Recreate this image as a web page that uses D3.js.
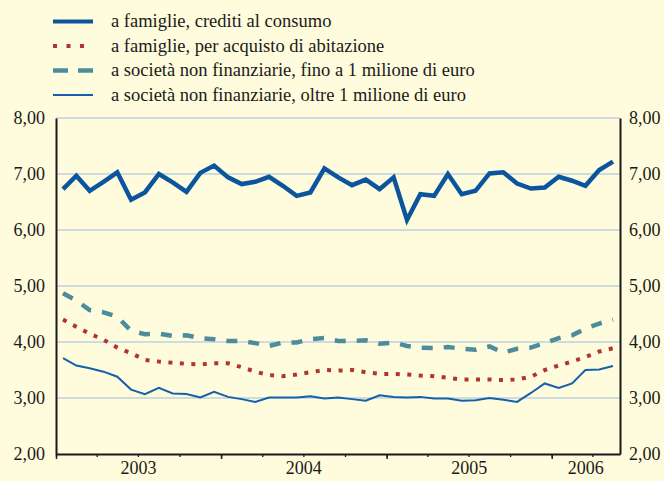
<!DOCTYPE html>
<html>
<head>
<meta charset="utf-8">
<script src="https://cdn.jsdelivr.net/npm/d3@7"></script>
<style>
  html, body { margin: 0; padding: 0; background: #fefcdc; }
  svg { display: block; }
  text { font-family: "Liberation Serif", "Times New Roman", serif; fill: #1a1a1a; }
</style>
</head>
<body>
<svg id="chart" width="664" height="481"></svg>
<script>
// Monthly rates, January 2003 - May 2006 (per cent)
const startMonth = new Date(2003, 0, 1);
const endMonth = new Date(2006, 5, 1);
const months = d3.timeMonth.range(startMonth, endMonth);

const consumo = [6.73, 6.97, 6.70, 6.86, 7.03, 6.54, 6.67, 7.00, 6.85, 6.68, 7.02, 7.15,
                 6.94, 6.82, 6.86, 6.95, 6.79, 6.61, 6.67, 7.10, 6.94, 6.80, 6.90, 6.73,
                 6.94, 6.18, 6.64, 6.61, 7.00, 6.64, 6.70, 7.01, 7.03, 6.83, 6.74, 6.76,
                 6.95, 6.88, 6.79, 7.07, 7.22];
const abitazione = [4.40, 4.27, 4.15, 4.04, 3.90, 3.80, 3.68, 3.65, 3.63, 3.61, 3.60, 3.62,
                    3.62, 3.55, 3.47, 3.41, 3.39, 3.42, 3.46, 3.50, 3.49, 3.50, 3.46, 3.43,
                    3.43, 3.42, 3.40, 3.39, 3.36, 3.33, 3.33, 3.33, 3.32, 3.33, 3.38, 3.50,
                    3.58, 3.65, 3.73, 3.83, 3.89];
const finoMilione = [4.87, 4.74, 4.57, 4.53, 4.45, 4.20, 4.14, 4.15, 4.11, 4.12, 4.07, 4.05,
                     4.02, 4.02, 3.98, 3.93, 3.99, 3.99, 4.05, 4.07, 4.02, 4.02, 4.03, 3.97,
                     3.99, 3.93, 3.90, 3.89, 3.91, 3.88, 3.86, 3.92, 3.81, 3.88, 3.90, 3.98,
                     4.07, 4.12, 4.24, 4.33, 4.40];
const oltreMilione = [3.71, 3.58, 3.53, 3.47, 3.38, 3.15, 3.07, 3.18, 3.08, 3.07, 3.01, 3.11,
                      3.02, 2.98, 2.93, 3.01, 3.01, 3.01, 3.03, 2.99, 3.01, 2.98, 2.95, 3.05,
                      3.02, 3.01, 3.02, 2.99, 2.99, 2.95, 2.96, 3.00, 2.97, 2.93, 3.09, 3.26,
                      3.18, 3.26, 3.50, 3.51, 3.57];

const seriesNames = [
  "a famiglie, crediti al consumo",
  "a famiglie, per acquisto di abitazione",
  "a società non finanziarie, fino a 1 milione di euro",
  "a società non finanziarie, oltre 1 milione di euro"
];
const yTicks = [2, 3, 4, 5, 6, 7, 8];
const yearLabels = ["2003", "2004", "2005", "2006"];

const series = [
  { name: seriesNames[0], values: consumo,      color: "#0b559e", width: 4.5, dash: null,      legendDash: null },
  { name: seriesNames[1], values: abitazione,   color: "#b0352f", width: 4,   dash: "4,7.5",   legendDash: "4,9.5" },
  { name: seriesNames[2], values: finoMilione,  color: "#4d8c9c", width: 4.5, dash: "11,11",   legendDash: "15,10" },
  { name: seriesNames[3], values: oltreMilione, color: "#1460ad", width: 2,   dash: null,      legendDash: null }
];

const W = 664, H = 481;
const margin = { top: 118, right: 44, bottom: 27, left: 56 };
const svg = d3.select("#chart");

const x = d3.scaleTime()
  .domain([startMonth, endMonth])
  .range([margin.left, W - margin.right]);
const y = d3.scaleLinear()
  .domain([2, 8])
  .range([H - margin.bottom, margin.top]);

// midpoint of each month
const monthMid = m => new Date((+m + +d3.timeMonth.offset(m, 1)) / 2);

// horizontal grid
svg.append("g")
  .selectAll("line")
  .data(yTicks.filter(v => v > 2))
  .join("line")
  .attr("x1", margin.left).attr("x2", W - margin.right)
  .attr("y1", d => y(d)).attr("y2", d => y(d))
  .attr("stroke", "#9fbbe0").attr("stroke-width", 1.2);

// series lines
const line = d3.line()
  .x((d, i) => x(monthMid(months[i])))
  .y(d => y(d));

svg.append("g")
  .selectAll("path")
  .data(series.slice().reverse())
  .join("path")
  .attr("d", d => line(d.values))
  .attr("fill", "none")
  .attr("stroke", d => d.color)
  .attr("stroke-width", d => d.width)
  .attr("stroke-dasharray", d => d.dash)
  .attr("stroke-linejoin", "miter")
  .attr("stroke-linecap", "butt");

// value axes on both sides
const fmt = v => d3.format(".2f")(v).replace(".", ",");
const leftAxis = svg.append("g")
  .attr("transform", `translate(${margin.left},0)`)
  .call(d3.axisLeft(y).tickValues(yTicks).tickFormat(fmt).tickSize(0).tickPadding(11));
const rightAxis = svg.append("g")
  .attr("transform", `translate(${W - margin.right},0)`)
  .call(d3.axisRight(y).tickValues(yTicks).tickFormat(fmt).tickSize(0).tickPadding(9));
[leftAxis, rightAxis].forEach(g => {
  g.select(".domain").attr("stroke", "#1a1a1a").attr("stroke-width", 2);
  g.selectAll("text").attr("font-size", 18).attr("font-family", "Liberation Serif").attr("fill", "#1a1a1a");
});

// time axis: quarterly minor ticks, yearly major ticks
const baseY = H - margin.bottom;
svg.append("g")
  .attr("transform", `translate(0,${baseY})`)
  .call(d3.axisBottom(x).ticks(d3.timeMonth.every(3)).tickFormat("").tickSize(3).tickSizeOuter(0))
  .call(g => g.selectAll(".tick line").attr("stroke", "#1a1a1a").attr("stroke-width", 1.3))
  .call(g => g.select(".domain").remove());
svg.append("g")
  .attr("transform", `translate(0,${baseY})`)
  .call(d3.axisBottom(x).ticks(d3.timeYear.every(1)).tickFormat("").tickSize(5).tickSizeOuter(0))
  .call(g => g.selectAll(".tick line").attr("stroke", "#1a1a1a").attr("stroke-width", 1.5))
  .call(g => g.select(".domain").attr("stroke", "#1a1a1a").attr("stroke-width", 2));

// year labels centred on the visible part of each year
svg.append("g")
  .selectAll("text")
  .data(yearLabels)
  .join("text")
  .attr("x", d => {
    const a = new Date(+d, 0, 1);
    const b = d3.min([new Date(+d + 1, 0, 1), endMonth]);
    return (x(a) + x(b)) / 2;
  })
  .attr("y", baseY + 20)
  .attr("text-anchor", "middle")
  .attr("font-size", 18)
  .text(d => d);

// legend
const legend = svg.append("g");
const rowY = [21.5, 46, 70.5, 95];
const rows = legend.selectAll("g")
  .data(series)
  .join("g")
  .attr("transform", (d, i) => `translate(0,${rowY[i]})`);
rows.append("line")
  .attr("x1", 53).attr("x2", 93)
  .attr("stroke", d => d.color)
  .attr("stroke-width", (d, i) => i === 0 ? 4 : (i === 3 ? 2 : d.width))
  .attr("stroke-dasharray", d => d.legendDash);
rows.append("text")
  .attr("x", 111).attr("y", 5.5)
  .attr("font-size", 18.5)
  .text(d => d.name);
</script>
</body>
</html>
